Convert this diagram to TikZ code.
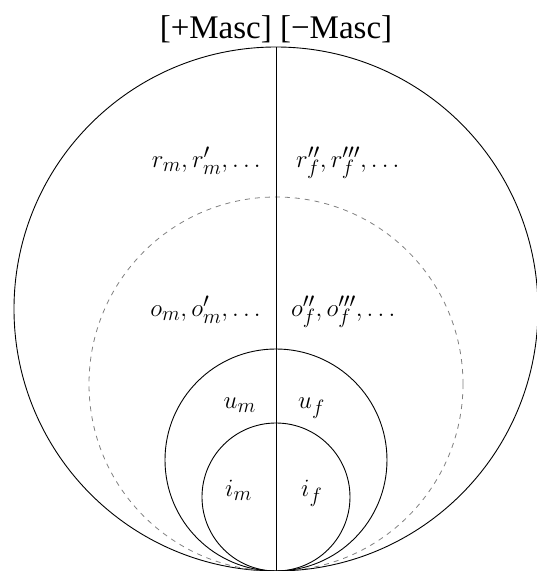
\documentclass[tikz,border=0pt]{standalone}
\usepackage{fontspec}
\newfontfamily\hdfont{Liberation Serif}
\begin{document}
\begin{tikzpicture}[x=1pt,y=1pt,
  ring/.style={draw=black,line width=0.9pt},
  dring/.style={draw=black!50,line width=0.8pt,dash pattern=on 5pt off 5pt},
  lab/.style={inner sep=0pt,font=\fontsize{29}{31}\selectfont},
  head/.style={inner sep=0pt,font=\hdfont\fontsize{33}{36}\selectfont}]
\useasboundingbox (-276,0) rectangle (261,571);
\coordinate (bot) at (0,0);
\coordinate (top) at (0,524);
\draw[ring] (0,262) circle (262);
\draw[dring] (0,187) circle (187);
\draw[ring] (0,111) circle (111);
\draw[ring] (0,74) circle (74);
\draw[ring] (bot) -- (top);
\node[head,anchor=base] (hd) at (0,532) {[+Masc] [−Masc]};
\node[lab,anchor=base east] (rm) at (-15,403) {$r_m, r'_m, \ldots$};
\node[lab,anchor=base west] (rf) at (20,403) {$r''_f, r'''_f, \ldots$};
\node[lab,anchor=base east] (om) at (-15,254) {$o_m, o'_m, \ldots$};
\node[lab,anchor=base west] (of) at (15,254) {$o''_f, o'''_f, \ldots$};
\node[lab,anchor=base east] (um) at (-20,162) {$u_m$};
\node[lab,anchor=base west] (uf) at (22,162) {$u_f$};
\node[lab,anchor=base east] (im) at (-24,74) {$i_m$};
\node[lab,anchor=base west] (if) at (25,74) {$i_f$};
\end{tikzpicture}
\end{document}
